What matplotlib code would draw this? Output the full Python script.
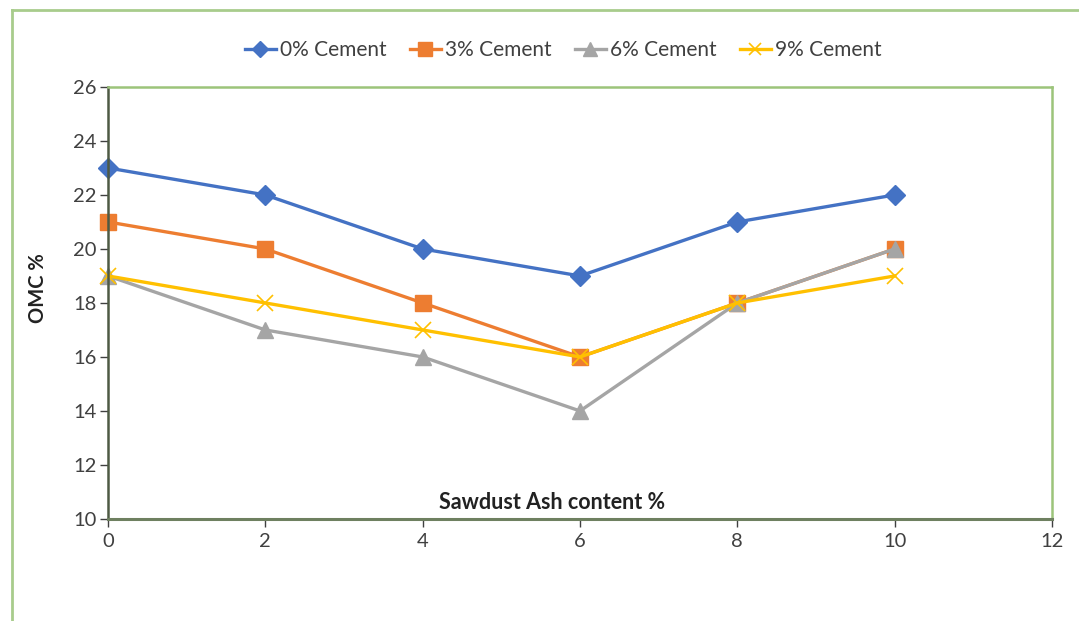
import matplotlib.pyplot as plt
from matplotlib.lines import Line2D

plt.rcParams['font.family'] = ['Lato', 'DejaVu Sans']

ash = [0, 2, 4, 6, 8, 10]
cement_0 = [23, 22, 20, 19, 21, 22]
cement_3 = [21, 20, 18, 16, 18, 20]
cement_6 = [19, 17, 16, 14, 18, 20]
cement_9 = [19, 18, 17, 16, 18, 19]
labels = ["0% Cement", "3% Cement", "6% Cement", "9% Cement"]

fig = plt.figure(figsize=(10.79, 6.21), dpi=100)
ax = fig.add_axes([0.1001, 0.1643, 0.8749, 0.6957])

ax.plot(ash, cement_0, color='#4472C4', lw=2.4, marker='D', ms=10, label=labels[0], clip_on=False)
ax.plot(ash, cement_3, color='#ED7D31', lw=2.4, marker='s', ms=12, label=labels[1], clip_on=False)
ax.plot(ash, cement_6, color='#A5A5A5', lw=2.4, marker='^', ms=12, label=labels[2], clip_on=False)
ax.plot(ash, cement_9, color='#FFC000', lw=2.4, marker='x', ms=11, mew=1.2, label=labels[3],
        clip_on=False)

ax.set_xlim(0, 12)
ax.set_ylim(10, 26)
ax.set_xticks(range(0, 13, 2))
ax.set_yticks(range(10, 27, 2))
ax.tick_params(axis='both', labelsize=14.5, colors='#404040', length=6, width=1)
ax.tick_params(axis='x', pad=4)
ax.tick_params(axis='y', pad=2)

for side in ['top', 'right']:
    ax.spines[side].set_color('#9CC47A')
    ax.spines[side].set_linewidth(1.8)
ax.spines['left'].set_color('#4E5A44')
ax.spines['left'].set_linewidth(1.8)
ax.spines['bottom'].set_color('#6E8060')
ax.spines['bottom'].set_linewidth(2.2)

ax.text(0.47, 0.037, "Sawdust Ash content %", transform=ax.transAxes,
        ha='center', va='center', fontsize=15.5, fontweight='bold', color='#222222')
fig.text(0.035, 1 - 288 / 621, "OMC %", rotation=90, ha='center', va='center',
         fontsize=14.5, fontweight='bold', color='#222222')

handles = [Line2D([0], [0], color=l.get_color(), lw=2.4, marker=l.get_marker(),
                  ms=l.get_markersize() * 0.85, mew=l.get_markeredgewidth())
           for l in ax.get_lines()]
fig.legend(handles, labels, loc='center', bbox_to_anchor=(0.522, 0.919), ncol=4,
           frameon=False, fontsize=15, handlelength=1.5, handletextpad=0.2,
           columnspacing=1.1, labelcolor='#404040')

# green chart border along the top and left edges
fig.add_artist(Line2D([12 / 1079, 12 / 1079], [0, 1 - 10 / 621], color='#A8CC8C', lw=2,
                      transform=fig.transFigure))
fig.add_artist(Line2D([12 / 1079, 1], [1 - 10 / 621, 1 - 10 / 621], color='#A8CC8C', lw=2,
                      transform=fig.transFigure))

fig.savefig("out.png", dpi=100)
